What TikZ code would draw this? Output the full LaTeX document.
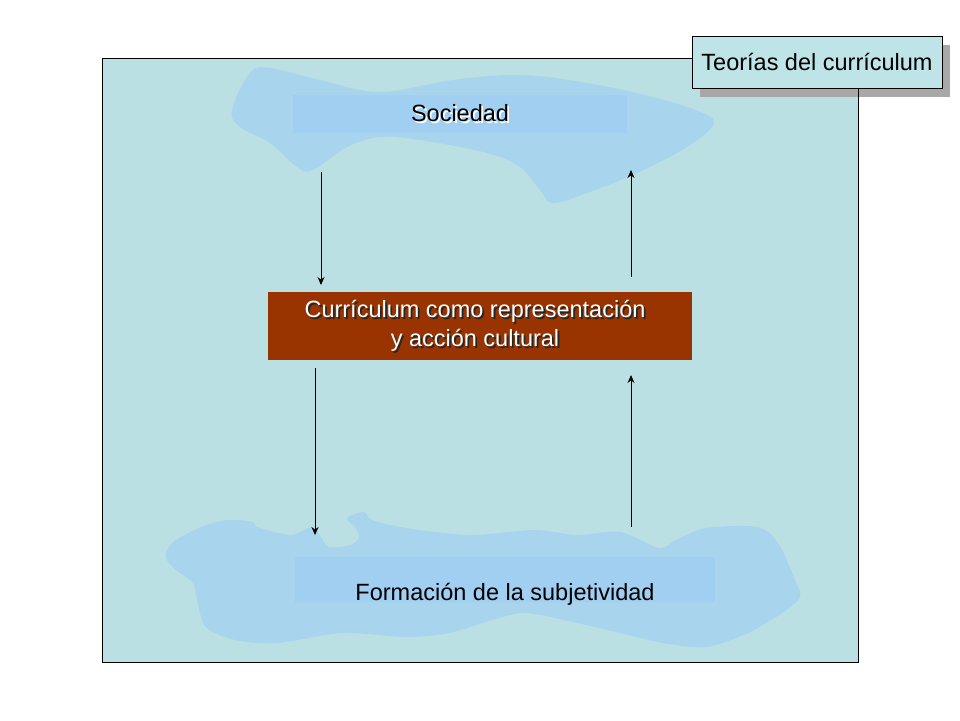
\documentclass[tikz,border=0pt]{standalone}
\usepackage{fontspec}
\setmainfont{Liberation Sans}
\usetikzlibrary{arrows.meta}
\definecolor{panel}{RGB}{187,224,227}
\definecolor{titlefill}{RGB}{190,228,232}
\definecolor{blob}{RGB}{168,212,238}
\definecolor{inner}{RGB}{160,207,242}
\definecolor{brick}{RGB}{153,51,0}
\definecolor{shadowgray}{RGB}{168,168,168}
\newcommand{\shadowline}[3]{\leavevmode\rlap{\hspace{1.8pt}\raisebox{-1.8pt}{\textcolor{#2}{#1}}}\textcolor{#3}{#1}}
\tikzset{
  txt/.style={font=\fontsize{23.5}{29}\selectfont, inner sep=0pt, align=center},
  arr/.style={line width=1pt, -{Stealth[length=8pt,width=7pt]}},
}
\begin{document}
\begin{tikzpicture}[x=1pt,y=-1pt]
\useasboundingbox (0,0) rectangle (960,720);
\fill[white] (0,0) rectangle (960,720);
% main panel
\fill[panel] (102,58) rectangle (858,662);
\fill[shadowgray] (700,45) rectangle (950,97);
\node[draw=black, line width=0.8pt, minimum width=756pt, minimum height=604pt, inner sep=0pt] (panel) at (480,360) {};
% top blob
\fill[blob] plot[smooth cycle, tension=0.6] coordinates {
 (232,110) (250,73) (270,68) (320,80) (380,92) (453,80) (520,75) (587,83) (653,97) (703,113) (713,125)
 (687,147) (637,173) (587,193) (553,203) (540,190) (520,167) (487,153) (420,140) (380,137) (347,147)
 (313,170) (297,167) (270,143) (240,127)};
% bottom blob
\fill[blob] plot[smooth cycle, tension=0.5] coordinates {
 (167,550) (176,540) (201,527) (227,520) (253,522) (257,527) (291,535) (312,527) (321,537) (329,547)
 (351,545) (359,537) (355,527) (347,518) (364,512) (372,520) (406,528) (470,535) (535,530) (577,535)
 (620,532) (659,548) (676,540) (706,528) (757,527) (778,543) (795,580) (800,597) (782,613) (748,633)
 (706,647) (663,643) (620,633) (577,623) (526,613) (492,620) (449,633) (406,637) (342,633) (278,643)
 (235,640) (206,627) (197,600) (193,583) (176,570) (167,560)};
% inner rectangles
\node[fill=inner, minimum width=334pt, minimum height=38pt, inner sep=0pt] (soc) at (460,114) {};
\node[txt] (soctxt) at (460,114) {\shadowline{Sociedad}{white}{black}};
\node[fill=inner, minimum width=420pt, minimum height=45pt, inner sep=0pt] (form) at (505,579.5) {};
\node[txt] (formtxt) at (505,594) {Formación de la subjetividad};
% centre box
\node[fill=brick, minimum width=424pt, minimum height=68pt, inner sep=0pt] (cur) at (480,326) {};
\node[txt] (curtxt) at (475,327) {\shadowline{Currículum como representación}{black!85}{white}\\\shadowline{y acción cultural}{black!85}{white}};
% title box
\node[draw=black, line width=0.8pt, fill=titlefill, minimum width=250pt, minimum height=52pt, inner sep=0pt] (teo) at (817,62) {};
\node[txt] (teotxt) at (817,62) {Teorías del currículum};
% arrows
\coordinate (a1s) at (321,172);
\coordinate (a1e) at (321,285);
\coordinate (a2s) at (631,277);
\coordinate (a2e) at (631,170);
\coordinate (a3s) at (315,368);
\coordinate (a3e) at (315,535);
\coordinate (a4s) at (631,527);
\coordinate (a4e) at (631,375);
\draw[arr] (a1s) -- (a1e);
\draw[arr] (a2s) -- (a2e);
\draw[arr] (a3s) -- (a3e);
\draw[arr] (a4s) -- (a4e);
\end{tikzpicture}
\end{document}
